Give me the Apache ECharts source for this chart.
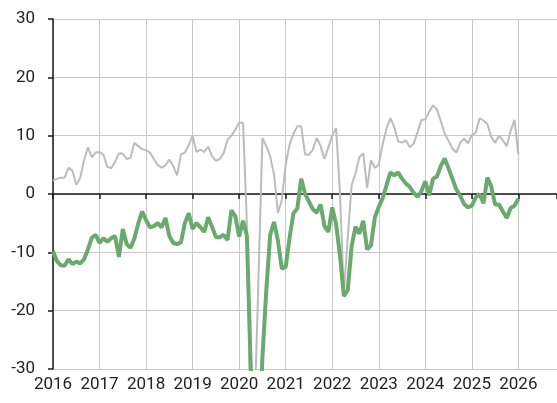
<!DOCTYPE html>
<html>
<head>
<meta charset="utf-8">
<script src="https://cdn.jsdelivr.net/npm/echarts@6/dist/echarts.min.js"></script>
<style>
  html, body { margin: 0; padding: 0; background: #ffffff; }
  #chart { width: 557px; height: 403px; }
</style>
</head>
<body>
<div id="chart"></div>
<script>
// Monthly readings, January 2016 through January 2026
const startYear = 2016;
const yearTicks = [2016, 2017, 2018, 2019, 2020, 2021, 2022, 2023, 2024, 2025, 2026];
const valueTicks = [-30, -20, -10, 0, 10, 20, 30];

const grayValues = [
  2.3, 2.6, 2.8, 2.8, 4.5, 4.0, 1.6, 2.7, 5.8, 8.0, 6.3, 7.1,        // 2016
  7.2, 6.7, 4.7, 4.4, 5.5, 7.0, 6.9, 6.0, 6.2, 8.8, 8.2, 7.7,        // 2017
  7.5, 7.1, 6.0, 5.0, 4.5, 4.9, 5.9, 4.8, 3.2, 6.8, 7.1, 8.4,        // 2018
  10.0, 7.2, 7.6, 7.2, 8.1, 6.5, 5.7, 6.0, 7.0, 9.3, 10.0, 11.0,     // 2019
  12.2, 12.2, -5.0, -42.0, -37.0, -14.0, 9.6, 8.2, 6.5, 3.3, -3.3, -1.0, // 2020
  5.0, 8.5, 10.3, 11.6, 11.6, 6.8, 6.7, 7.6, 9.6, 8.2, 6.0, 8.0,     // 2021
  10.0, 11.3, 0.0, -17.0, -7.5, 1.5, 3.5, 6.3, 7.0, 1.0, 5.8, 4.5,   // 2022
  5.0, 8.5, 11.2, 13.0, 11.5, 9.0, 8.8, 9.2, 8.0, 8.6, 10.6, 12.7,   // 2023
  12.8, 14.1, 15.2, 14.5, 12.5, 10.4, 9.1, 7.8, 7.1, 8.8, 9.5, 8.7,  // 2024
  10.1, 10.5, 13.0, 12.6, 12.0, 9.8, 8.8, 10.0, 9.2, 8.2, 10.8, 12.7, // 2025
  6.8                                                                  // 2026
];

const greenValues = [
  -9.8, -11.5, -12.2, -12.3, -11.2, -12.0, -11.6, -11.9, -11.2, -9.5, -7.5, -7.0, // 2016
  -8.4, -7.6, -8.2, -7.6, -7.2, -10.8, -6.0, -8.6, -9.2, -7.6, -5.0, -3.0,        // 2017
  -4.5, -5.7, -5.5, -5.0, -5.7, -4.1, -7.2, -8.4, -8.6, -8.3, -5.0, -3.3,         // 2018
  -6.0, -5.0, -5.7, -6.5, -4.0, -5.6, -7.4, -7.4, -7.0, -7.9, -2.8, -3.8,         // 2019
  -7.3, -4.6, -7.2, -30.0, -48.0, -45.0, -28.0, -16.5, -7.0, -4.8, -8.0, -12.8,   // 2020
  -12.5, -7.5, -3.3, -2.5, 2.6, 0.0, -1.3, -2.6, -3.2, -1.8, -5.5, -6.5,          // 2021
  -2.3, -5.2, -10.5, -17.5, -16.5, -9.0, -5.6, -6.8, -4.6, -9.5, -8.8, -4.0,      // 2022
  -2.2, -0.7, 1.5, 3.7, 3.2, 3.7, 2.6, 1.8, 1.2, 0.2, -0.5, 0.5,                   // 2023
  2.2, -0.2, 2.6, 3.0, 4.8, 6.1, 4.4, 2.6, 0.8, -0.3, -1.7, -2.3,                  // 2024
  -2.0, -0.6, 0.0, -1.6, 2.8, 1.3, -1.8, -1.8, -3.0, -4.1, -2.4, -2.0,            // 2025
  -0.8                                                                             // 2026
];

const toPoints = (arr) => arr.map((v, i) => [startYear + i / 12, v]);

const textColor = '#222222';
const gridColor = '#c8c8c8';
const axisColor = '#1a1a1a';
const fontFamily = 'Roboto, "Noto Sans", sans-serif';

const xMin = yearTicks[0];
const xMax = 2026.83;

const chart = echarts.init(document.getElementById('chart'), null, { renderer: 'canvas' });

chart.setOption({
  animation: false,
  backgroundColor: '#ffffff',
  grid: { left: 53, right: 0, top: 19, bottom: 34, containLabel: false },
  xAxis: [
    {
      // black baseline through zero, with short year ticks hanging below it
      type: 'value',
      position: 'top',
      min: xMin,
      max: xMax,
      interval: 1,
      axisLine: { show: true, onZero: true, lineStyle: { color: axisColor, width: 1.5 } },
      axisTick: { show: true, inside: true, length: 5, lineStyle: { color: axisColor, width: 1.5 } },
      axisLabel: { show: false },
      splitLine: { show: false }
    },
    {
      // year labels along the bottom edge plus the vertical grid
      type: 'value',
      position: 'bottom',
      min: xMin,
      max: xMax,
      interval: 1,
      axisLine: { show: false, onZero: false },
      axisTick: { show: false },
      axisLabel: {
        show: true,
        color: textColor,
        fontSize: 17,
        fontFamily: fontFamily,
        margin: 7,
        showMaxLabel: false,
        formatter: (v) => (yearTicks.includes(Math.round(v)) ? String(Math.round(v)) : '')
      },
      splitLine: { show: true, lineStyle: { color: gridColor, width: 1 } }
    }
  ],
  yAxis: {
    type: 'value',
    min: valueTicks[0],
    max: valueTicks[valueTicks.length - 1],
    interval: 10,
    axisLine: { show: true, onZero: false, lineStyle: { color: axisColor, width: 1.5 } },
    axisTick: { show: true, length: 5, lineStyle: { color: axisColor, width: 1.5 } },
    axisLabel: { color: textColor, fontSize: 17, fontFamily: fontFamily, margin: 18 },
    splitLine: { show: true, lineStyle: { color: gridColor, width: 1 } }
  },
  series: [
    {
      type: 'line',
      xAxisIndex: 1,
      data: toPoints(grayValues),
      showSymbol: false,
      clip: true,
      lineStyle: { color: '#bcbcbc', width: 2 },
      z: 3
    },
    {
      type: 'line',
      xAxisIndex: 1,
      data: toPoints(greenValues),
      showSymbol: false,
      clip: true,
      lineStyle: { color: '#6aaa6e', width: 4 },
      z: 4
    }
  ]
});
</script>
</body>
</html>
